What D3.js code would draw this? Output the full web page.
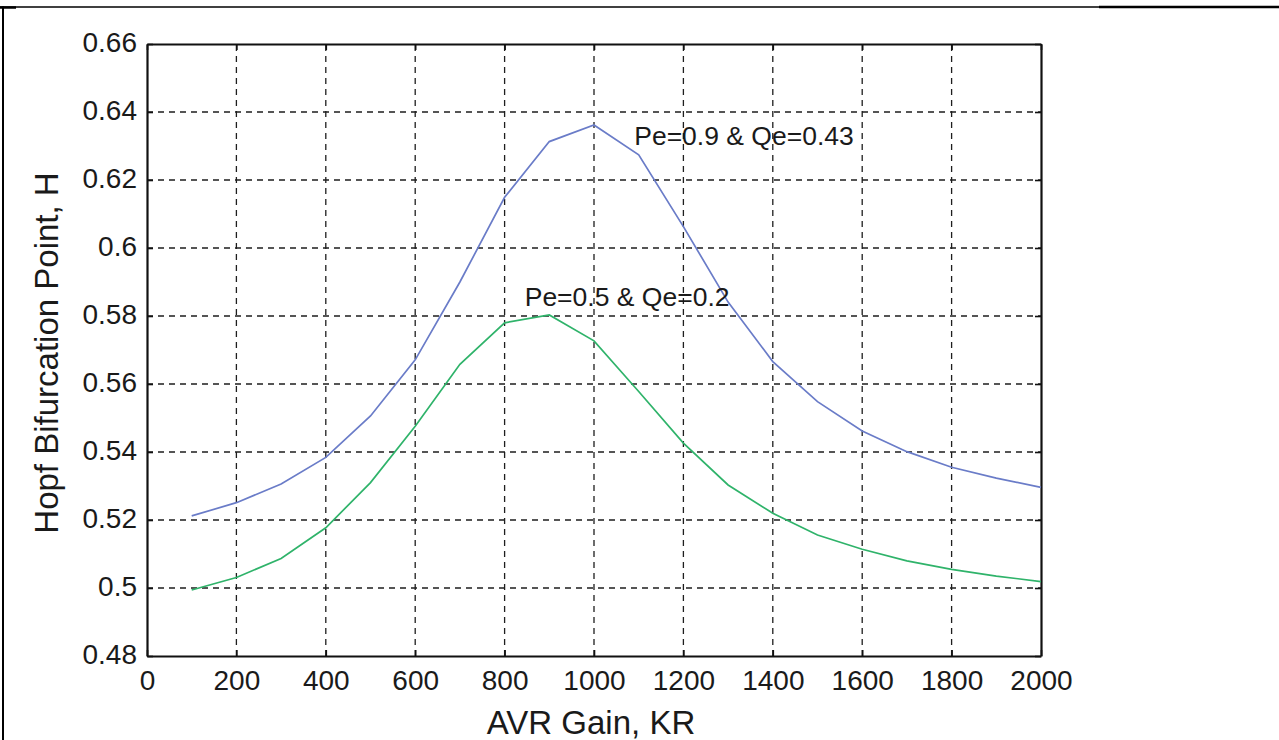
<!DOCTYPE html>
<html>
<head>
<meta charset="utf-8">
<script src="https://cdn.jsdelivr.net/npm/d3@7/dist/d3.min.js"></script>
<style>
  html, body { margin: 0; padding: 0; background: #fff; }
  svg { display: block; }
  text { font-family: "Liberation Sans", Arial, sans-serif; fill: #1a1a1a; }
</style>
</head>
<body>
<svg id="chart" width="1279" height="740"></svg>
<script>
// AVR gain values (KR)
const gains = [100, 200, 300, 400, 500, 600, 700, 800, 900, 1000,
               1100, 1200, 1300, 1400, 1500, 1600, 1700, 1800, 1900, 2000];

// Hopf bifurcation point H for each operating condition
const hHeavy = [0.5212, 0.5251, 0.5306, 0.5384, 0.5506, 0.5671, 0.5900, 0.6149, 0.6313, 0.6362,
                0.6274, 0.6063, 0.5841, 0.5666, 0.5548, 0.5462, 0.5401, 0.5355, 0.5323, 0.5296];
const hLight = [0.4994, 0.5031, 0.5087, 0.5177, 0.5310, 0.5476, 0.5658, 0.5780, 0.5803, 0.5727,
                0.5578, 0.5426, 0.5303, 0.5220, 0.5156, 0.5114, 0.5080, 0.5055, 0.5035, 0.5019];

const seriesLabels = ["Pe=0.9 & Qe=0.43", "Pe=0.5 & Qe=0.2"];
const xTicks = [0, 200, 400, 600, 800, 1000, 1200, 1400, 1600, 1800, 2000];
const yTicks = [0.48, 0.50, 0.52, 0.54, 0.56, 0.58, 0.60, 0.62, 0.64, 0.66];
const xTitle = "AVR Gain, KR";
const yTitle = "Hopf Bifurcation Point, H";

const svg = d3.select("#chart");
const plot = { left: 147, right: 1041, top: 44, bottom: 656 };

const x = d3.scaleLinear().domain([0, 2000]).range([plot.left, plot.right]);
const y = d3.scaleLinear().domain([0.48, 0.66]).range([plot.bottom, plot.top]);

// page frame
svg.append("line").attr("x1", 0).attr("x2", 1099).attr("y1", 7).attr("y2", 7)
  .attr("stroke", "#000").attr("stroke-width", 1.5);
svg.append("line").attr("x1", 1099).attr("x2", 1279).attr("y1", 7).attr("y2", 7)
  .attr("stroke", "#000").attr("stroke-width", 2.6);
svg.append("line").attr("x1", 3).attr("x2", 3).attr("y1", 6.3).attr("y2", 740)
  .attr("stroke", "#000").attr("stroke-width", 2);
svg.append("line").attr("x1", 0).attr("x2", 16).attr("y1", 7.5).attr("y2", 7.5)
  .attr("stroke", "#000").attr("stroke-width", 2.5);

// dashed grid
const grid = svg.append("g").attr("stroke", "#1e1e1e").attr("stroke-width", 1.3)
  .attr("stroke-dasharray", "6,5");
grid.selectAll("line.gx").data(xTicks.slice(1, -1)).join("line")
  .attr("x1", d => x(d)).attr("x2", d => x(d))
  .attr("y1", plot.bottom).attr("y2", plot.top);
grid.selectAll("line.gy").data(yTicks.slice(1, -1)).join("line")
  .attr("y1", d => y(d)).attr("y2", d => y(d))
  .attr("x1", plot.left).attr("x2", plot.right);

// axes with inward ticks, labels only on bottom and left
const fmtY = d => d3.format(".2f")(d).replace(/0$/, "");
const axisStyle = (g) => {
  g.select(".domain").attr("stroke", "#111").attr("stroke-width", 2.2);
  g.selectAll(".tick line").attr("stroke", "#111").attr("stroke-width", 1.6);
};

const xAxis = svg.append("g").attr("transform", `translate(0,${plot.bottom})`)
  .call(d3.axisBottom(x).tickValues(xTicks).tickSizeInner(-6).tickSizeOuter(0).tickPadding(14).tickFormat(d3.format("d")));
axisStyle(xAxis);
xAxis.selectAll(".tick text").attr("font-size", 28).attr("fill", "#1a1a1a")
  .attr("font-family", "Liberation Sans, Arial, sans-serif");

const yAxis = svg.append("g").attr("transform", `translate(${plot.left},0)`)
  .call(d3.axisLeft(y).tickValues(yTicks).tickSizeInner(-6).tickSizeOuter(0).tickPadding(10).tickFormat(fmtY));
axisStyle(yAxis);
yAxis.selectAll(".tick text").attr("font-size", 28).attr("fill", "#1a1a1a")
  .attr("dy", "0.28em")
  .attr("font-family", "Liberation Sans, Arial, sans-serif");

const xTop = svg.append("g").attr("transform", `translate(0,${plot.top})`)
  .call(d3.axisTop(x).tickValues(xTicks).tickSizeInner(-6).tickSizeOuter(0).tickFormat(""));
axisStyle(xTop);
const yRight = svg.append("g").attr("transform", `translate(${plot.right},0)`)
  .call(d3.axisRight(y).tickValues(yTicks).tickSizeInner(-6).tickSizeOuter(0).tickFormat(""));
axisStyle(yRight);

// curves
const line = d3.line().x((d, i) => x(gains[i])).y(d => y(d));
svg.append("path").datum(hHeavy).attr("d", line)
  .attr("fill", "none").attr("stroke", "#6a7cc8").attr("stroke-width", 1.7);
svg.append("path").datum(hLight).attr("d", line)
  .attr("fill", "none").attr("stroke", "#2fb36a").attr("stroke-width", 1.7);

// curve annotations
svg.append("text").attr("x", x(1090)).attr("y", y(0.6303)).attr("font-size", 26.5)
  .text(seriesLabels[0]);
svg.append("text").attr("x", x(845)).attr("y", y(0.5830)).attr("font-size", 26.5)
  .text(seriesLabels[1]);

// axis titles
svg.append("text").attr("x", (plot.left + plot.right) / 2 - 3).attr("y", 734)
  .attr("text-anchor", "middle").attr("font-size", 33).text(xTitle);
svg.append("text").attr("transform", `translate(58,${353}) rotate(-90)`)
  .attr("text-anchor", "middle").attr("font-size", 33).text(yTitle);
</script>
</body>
</html>
